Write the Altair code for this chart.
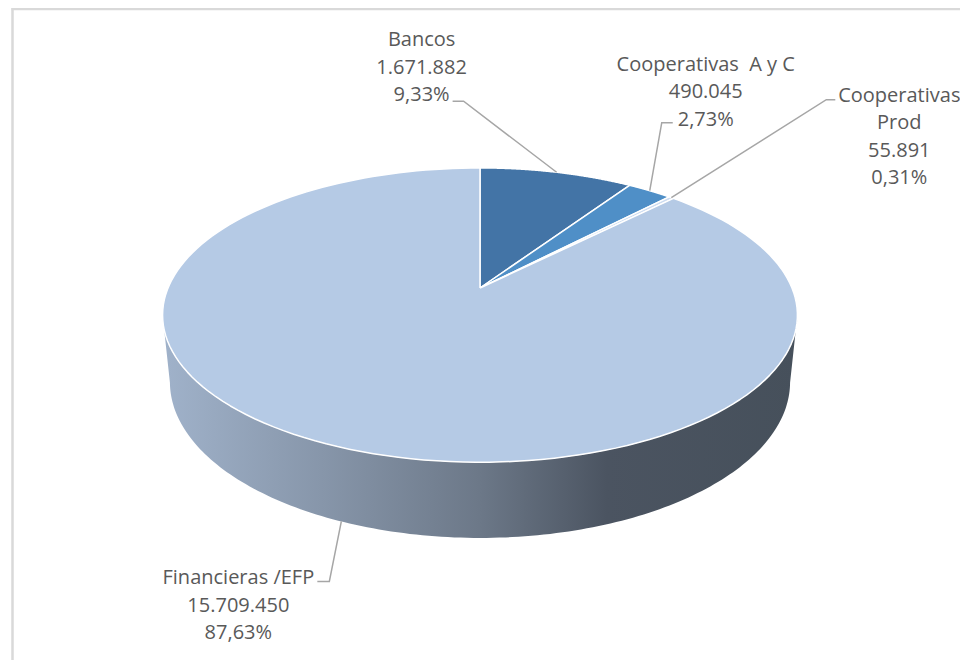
import altair as alt
import pandas as pd

# ---------------- data ----------------
categories = ["Bancos", "Cooperativas  A y C", "Cooperativas Prod", "Financieras /EFP"]
label_names = ["Bancos", "Cooperativas\u00a0 A y C", "Cooperativas\nProd", "Financieras /EFP"]
values = [1671882, 490045, 55891, 15709450]
colors = ["#4374a6", "#4f8fc7", "#cddcf0", "#b5cae5"]

total = sum(values)
value_text = [f"{v:,}".replace(",", ".") for v in values]
pct_text = [f"{v / total * 100:.2f}%".replace(".", ",") for v in values]

# ---------------- layout (pie geometry, label placement) ----------------
W, H = 952, 652
CX, CY = 472, 280          # pie centre in plot pixels
K = 312                    # projected radius
SIN, COS = 0.4557, 0.890   # tilt
U, SD = 0.184, 0.0942      # perspective terms
DEPTH = 0.243              # pie thickness
N = 160                    # rim samples per slice
M = 160                    # rim samples for wall

label_dx = [-135, 56, 228, -103]
label_dy = [-132, -126, -102, 57]
elbow_dx = [-93, 12, 155, -12]
elbow_dy = [-71, -68, -98, 60]
end_dx = [-104, 23, 164, -24]
end_dy = [-71, -68, -98, 60]
anchor_level = [0, 0, 0, 1]

xs = alt.Scale(domain=[0, W], nice=False, zero=False)
ys = alt.Scale(domain=[0, H], nice=False, zero=False, reverse=True)


def slice_angles(ch):
    return (ch.transform_joinaggregate(total="sum(value)")
              .transform_window(cum="sum(value)",
                                sort=[alt.SortField("order", order="ascending")],
                                frame=[None, 0])
              .transform_calculate(start="(datum.cum - datum.value) / datum.total")
              .transform_calculate(end="datum.cum / datum.total"))


def project(ch):
    den = f"(1 + datum.Z*{U} - datum.Y*{SD})"
    return (ch.transform_calculate(px=f"{CX} + {K}*datum.X/{den}")
              .transform_calculate(py=f"{CY} - {K}*(datum.Y*{COS} + datum.Z*{SIN})/{den}"))


base = pd.DataFrame({"cat": categories, "value": values, "order": list(range(len(values)))})

# ---------------- side wall ----------------
wall = alt.Chart(alt.sequence(0, 2 * M + 2, as_="k")).transform_calculate(
    top=f"datum.k <= {M}"
).transform_calculate(
    t0=f"acos(-{U})"
).transform_calculate(
    t=f"datum.top ? datum.t0 + (2*PI - 2*datum.t0)*datum.k/{M} : datum.t0 + (2*PI - 2*datum.t0)*({2 * M + 1} - datum.k)/{M}"
).transform_calculate(
    X="sin(datum.t)"
).transform_calculate(
    Z="cos(datum.t)"
).transform_calculate(
    Y=f"datum.top ? 0 : {-DEPTH}"
)
wall = project(wall).mark_line(
    fill=alt.Gradient(
        gradient="linear",
        stops=[
            alt.GradientStop(color="#a0b2ca", offset=0),
            alt.GradientStop(color="#8796aa", offset=0.25),
            alt.GradientStop(color="#6c7888", offset=0.5),
            alt.GradientStop(color="#4b5461", offset=0.7),
            alt.GradientStop(color="#46505b", offset=1),
        ],
        x1=0, x2=1, y1=0, y2=0,
    ),
    strokeWidth=0,
).encode(
    x=alt.X("px:Q", scale=xs, axis=None),
    y=alt.Y("py:Q", scale=ys, axis=None),
    order="k:Q",
)

# ---------------- top face slices ----------------
sl = slice_angles(alt.Chart(base)).transform_calculate(
    steps=f"sequence(0, {N + 3})"
).transform_flatten(["steps"], as_=["k"]).transform_calculate(
    rim=f"datum.k > 0 && datum.k < {N + 2}"
).transform_calculate(
    t=f"2*PI*(datum.start + (datum.end - datum.start)*(datum.k - 1)/{N})"
).transform_calculate(
    X="datum.rim ? sin(datum.t) : 0"
).transform_calculate(
    Z="datum.rim ? cos(datum.t) : 0"
).transform_calculate(Y="0")
slices = project(sl).mark_line(stroke="white", strokeWidth=1.5, strokeJoin="round").encode(
    x=alt.X("px:Q", scale=xs, axis=None),
    y=alt.Y("py:Q", scale=ys, axis=None),
    order="k:Q",
    fill=alt.Fill("cat:N", scale=alt.Scale(domain=categories, range=colors), legend=None),
)

# ---------------- labels ----------------
lab = base.copy()
lab["label"] = [f"{n}\n{v}\n{p}" for n, v, p in zip(label_names, value_text, pct_text)]
lab["lx"] = label_dx
lab["ly"] = label_dy
lab["ex"] = elbow_dx
lab["ey"] = elbow_dy
lab["hx"] = end_dx
lab["hy"] = end_dy
lab["lvl"] = anchor_level


def anchors(ch):
    ch = slice_angles(ch).transform_calculate(
        t="PI*(datum.start + datum.end)"
    ).transform_calculate(X="sin(datum.t)").transform_calculate(
        Z="cos(datum.t)").transform_calculate(Y=f"-{DEPTH}*datum.lvl")
    return project(ch)


lead = anchors(alt.Chart(lab)).transform_calculate(
    steps="[0, 1, 2]"
).transform_flatten(["steps"], as_=["k"]).transform_calculate(
    lxp="datum.k == 0 ? datum.px : datum.px + (datum.k == 1 ? datum.ex : datum.hx)"
).transform_calculate(
    lyp="datum.k == 0 ? datum.py : datum.py + (datum.k == 1 ? datum.ey : datum.hy)"
)
leaders = lead.mark_line(color="#a6a6a6", strokeWidth=1.5).encode(
    x=alt.X("lxp:Q", scale=xs, axis=None),
    y=alt.Y("lyp:Q", scale=ys, axis=None),
    order="k:Q",
    detail="cat:N",
)

txt = anchors(alt.Chart(lab)).transform_calculate(
    tx="datum.px + datum.lx"
).transform_calculate(ty="datum.py + datum.ly")
texts = txt.mark_text(
    font="Open Sans", fontSize=20, color="#595959", lineBreak="\n", lineHeight=27.5,
    align="center", baseline="middle",
).encode(
    x=alt.X("tx:Q", scale=xs, axis=None),
    y=alt.Y("ty:Q", scale=ys, axis=None),
    text="label:N",
)

# ---------------- frame ----------------
dummy = pd.DataFrame({"d": [0]})
frame_left = alt.Chart(dummy).mark_rule(color="#d9d9d9", strokeWidth=2.5).encode(
    x=alt.value(4.5), y=alt.value(0), y2=alt.value(H))
frame_top = alt.Chart(dummy).mark_rule(color="#d9d9d9", strokeWidth=2.5).encode(
    x=alt.value(3.5), x2=alt.value(W), y=alt.value(1))

chart = alt.layer(wall, slices, leaders, texts, frame_left, frame_top).properties(
    width=W, height=H, padding=0, autosize=alt.AutoSizeParams(type="none"),
    background="white",
).configure_view(strokeWidth=0)

chart.save("out.html", embed_options={"renderer": "svg", "actions": False})
